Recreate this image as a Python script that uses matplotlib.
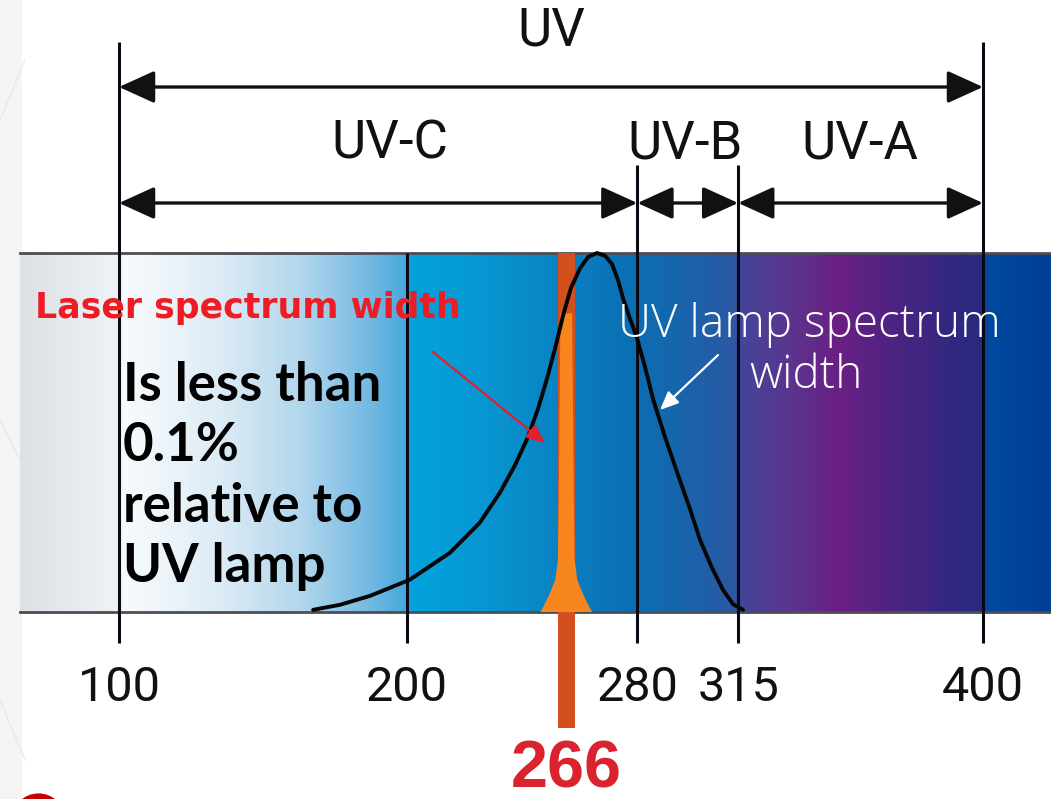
import numpy as np
import matplotlib.pyplot as plt
from matplotlib import font_manager as fm
from matplotlib.colors import LinearSegmentedColormap
from matplotlib.patches import Polygon, Rectangle

# wavelength scale (nm)
tick_nm = [100, 200, 280, 315, 400]
band_names = ["UV-C", "UV-B", "UV-A"]
band_edges = [100, 280, 315, 400]
laser_label = "266"
laser_pos = 255.3  # where the laser line sits in the source drawing

# UV lamp emission, relative intensity
lamp_nm = [167.4, 176.7, 187.2, 201.0, 214.9, 225.3, 232.3, 237.5, 241.7, 245.5,
           248.6, 251.4, 254.2, 256.9, 260.1, 262.9, 266.0, 268.8, 271.2, 273.3,
           275.0, 277.4, 279.9, 282.6, 285.4, 289.6, 293.8, 298.3, 301.7, 305.9,
           309.7, 313.2, 316.7]
lamp_int = [0.006, 0.020, 0.045, 0.090, 0.165, 0.249, 0.333, 0.409, 0.482, 0.566,
            0.650, 0.734, 0.826, 0.902, 0.958, 0.989, 1.000, 0.992, 0.969, 0.924,
            0.874, 0.818, 0.762, 0.684, 0.594, 0.487, 0.389, 0.286, 0.202, 0.123,
            0.062, 0.022, 0.006]

# laser line profile: half width (nm) vs relative height
laser_hw = [2.0, 2.3, 2.6, 2.9, 3.8, 5.9, 7.6, 9.0]
laser_int = [0.832, 0.594, 0.314, 0.146, 0.09, 0.048, 0.02, 0.0]

W, H = 1051, 799
PX_PER_NM = 2.88
X0_PX, BAND_TOP, BAND_BOT = 119, 253, 612


def X(p):  # pixel column -> nm
    return 100 + (p - X0_PX) / PX_PER_NM


def Y(p):  # pixel row -> band height units
    return (BAND_BOT - p) / (BAND_BOT - BAND_TOP)


installed = {f.name for f in fm.fontManager.ttflist}
if "Liberation Sans Narrow" in installed:
    cond = ["Liberation Sans Narrow", "DejaVu Sans"]
    tick_size, label_size = 39, 37
else:
    cond = ["Roboto", "DejaVu Sans"]
    tick_size, label_size = 35, 38

fig = plt.figure(figsize=(W / 100, H / 100), dpi=100)
ax = fig.add_axes([0, 0, 1, 1])
ax.set_xlim(X(0), X(W))
ax.set_ylim(Y(H), Y(0))
ax.axis("off")

# faint slide background strip on the far left
ax.add_patch(Rectangle((X(0), Y(H)), X(22) - X(0), Y(0) - Y(H),
                       color="#f4f4f4", lw=0, zorder=0))
for (a, b), (c, d) in [((0, 120), (25, 60)), ((0, 420), (25, 470)), ((0, 700), (25, 760))]:
    ax.plot([X(a), X(c)], [Y(b), Y(d)], color="#e6e6e6", lw=0.8, zorder=0)

# spectrum band gradient
stops = [(20, "#dbe1e6"), (116, "#eef3f6"), (122, "#f8fbfd"), (220, "#dcebf5"),
         (300, "#b2d6ec"), (370, "#72b9e2"), (405, "#47a8dd"), (409, "#02a3dd"),
         (480, "#0897d2"), (560, "#0a82c3"), (636, "#0b6eb2"), (700, "#1e61a9"),
         (736, "#2c57a3"), (741, "#45459a"), (790, "#5a358f"), (840, "#6b1f84"),
         (900, "#4b2482"), (960, "#2f2880"), (983, "#2a2a7e"), (988, "#004aa0"),
         (1051, "#003f94")]
x_left, x_right = X(20), X(W)
pos = [(X(p) - x_left) / (x_right - x_left) for p, _ in stops]
cmap = LinearSegmentedColormap.from_list("uv", list(zip(pos, [c for _, c in stops])))
grad = np.linspace(0, 1, 1200)[None, :]
ax.imshow(grad, cmap=cmap, aspect="auto", extent=(x_left, x_right, 0, 1),
          interpolation="bilinear", zorder=1)
ax.plot([x_left, x_right], [1, 1], color="#4d4d55", lw=2, zorder=2)
ax.plot([x_left, x_right], [0, 0], color="#4d4d55", lw=2, zorder=2)

# vertical marker lines
line_top = {100: Y(42), 200: 1, 280: Y(165), 315: Y(165), 400: Y(42)}
for nm in tick_nm:
    ax.plot([nm, nm], [Y(643), line_top[nm]], color="#0a0a14", lw=2.2,
            solid_capstyle="butt", zorder=3)
    ax.text(nm, Y(688), str(nm), ha="center", va="center", fontsize=tick_size,
            family=cond, color="#111111")

# laser line: dark bar + orange spike
ax.add_patch(Rectangle((laser_pos - 3.0, Y(728)), 6.0, 1 - Y(728),
                       color="#d2501e", lw=0, zorder=4))
spike = [(laser_pos - hw, h) for hw, h in zip(laser_hw, laser_int)]
spike += [(laser_pos + hw, h) for hw, h in zip(laser_hw[::-1], laser_int[::-1])]
ax.add_patch(Polygon(spike, closed=True, color="#f7861f", lw=0, zorder=5))
ax.text(laser_pos, Y(770), laser_label, ha="center", va="center", fontsize=48,
        fontweight="bold", family=["Liberation Sans", "DejaVu Sans"], color="#d9232e")

# UV lamp curve
ax.plot(lamp_nm, lamp_int, color="#050505", lw=2.8, solid_joinstyle="round",
        solid_capstyle="round", zorder=6)

# range arrows on top
arrow_kw = dict(arrowstyle="<|-|>,head_length=1.1,head_width=0.5", color="#111111",
                lw=2.4, shrinkA=0, shrinkB=0, mutation_scale=20)
ax.annotate("", xy=(band_edges[0], Y(87)), xytext=(band_edges[-1], Y(87)),
            arrowprops=arrow_kw, zorder=7)
ax.text(X(551), Y(31), "UV", ha="center", va="center", fontsize=label_size,
        family=cond, color="#111111")
label_px = [390, 685, 860]
for (a, b), name, lx in zip(zip(band_edges[:-1], band_edges[1:]), band_names, label_px):
    ax.annotate("", xy=(a, Y(203)), xytext=(b, Y(203)), arrowprops=arrow_kw, zorder=7)
    ax.text(X(lx), Y(144), name, ha="center", va="center", fontsize=label_size,
            family=cond, color="#111111")

# annotations
ax.text(X(35), Y(308), "Laser spectrum width", ha="left", va="center",
        fontsize=25, fontweight="bold", family=["DejaVu Sans"],
        color="#ee1c25", zorder=8)
for i, line in enumerate(["Is less than", "0.1%", "relative to", "UV lamp"]):
    ax.text(X(123), Y(385 + 60.5 * i), line, ha="left", va="center", fontsize=38,
            fontweight="bold", family=["Lato", "DejaVu Sans"], color="#000000", zorder=8)
ax.annotate("", xy=(X(545), Y(443)), xytext=(X(433), Y(352)),
            arrowprops=dict(arrowstyle="-|>,head_length=0.8,head_width=0.35",
                            color="#e0202a", lw=1.6, shrinkA=0, shrinkB=0,
                            mutation_scale=14), zorder=8)
ax.text(X(809), Y(325), "UV lamp spectrum", ha="center", va="center", fontsize=33,
        fontweight="light", family=["Open Sans", "DejaVu Sans"], color="#ffffff", zorder=8)
ax.text(X(806), Y(376), "width", ha="center", va="center", fontsize=33,
        fontweight="light", family=["Open Sans", "DejaVu Sans"], color="#ffffff", zorder=8)
ax.annotate("", xy=(X(660), Y(410)), xytext=(X(718), Y(355)),
            arrowprops=dict(arrowstyle="-|>,head_length=0.8,head_width=0.35",
                            color="#ffffff", lw=1.6, shrinkA=0, shrinkB=0,
                            mutation_scale=14), zorder=8)

# red bullet peeking in at bottom-left
ax.plot([X(38)], [Y(820)], marker="o", markersize=39, color="#c00000",
        markeredgewidth=0, clip_on=False, zorder=8)

fig.savefig("out.png", dpi=100)
